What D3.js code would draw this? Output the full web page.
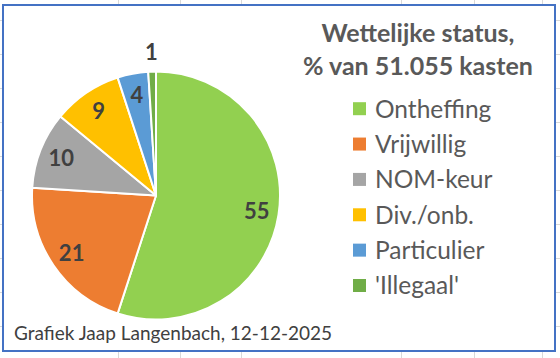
<!DOCTYPE html>
<html>
<head>
<meta charset="utf-8">
<script src="https://cdn.jsdelivr.net/npm/d3@7"></script>
<style>
    html, body { margin: 0; padding: 0; background: #fff; }
    svg { display: block; font-family: Lato, "Open Sans", sans-serif; }
    .grid line { stroke: #d9d9d9; stroke-width: 1px; }
    .frame { fill: #fff; stroke: #4472C4; stroke-width: 2px; }
    .title { fill: #595959; font-weight: bold; font-size: 25px; }
    .legend text { fill: #595959; font-size: 24.5px; }
    .label { fill: #404040; font-weight: bold; font-size: 22px; }
    .footer { fill: #404040; font-size: 19px; }
</style>
</head>
<body>
<svg id="chart" width="560" height="358"></svg>
<script>
const categories = ["Ontheffing", "Vrijwillig", "NOM-keur", "Div./onb.", "Particulier", "'Illegaal'"];
const values = [55, 21, 10, 9, 4, 1];
const colors = ["#92D050", "#ED7D31", "#A5A5A5", "#FFC000", "#5B9BD5", "#70AD47"];
const titleLines = ["Wettelijke status,", "% van 51.055 kasten"];
const footerText = "Grafiek Jaap Langenbach, 12-12-2025";

const svg = d3.select("#chart");

// spreadsheet cells behind the chart
let grid = svg.append("g").attr("class", "grid");
let colX = [118.5, 180.5, 241.5, 401.5, 474.5, 542.5];
grid.selectAll("line.v").data(colX).enter().append("line")
    .attr("x1", d => d).attr("x2", d => d).attr("y1", 0).attr("y2", 358);
grid.selectAll("line.h").data(d3.range(20.5, 358, 34)).enter().append("line")
    .attr("x1", 0).attr("x2", 560).attr("y1", d => d).attr("y2", d => d);

svg.append("rect").attr("class", "frame")
    .attr("x", 3).attr("y", 5).attr("width", 552).attr("height", 346);

// pie
let cx = 156, cy = 195.5, r = 124;
let color = d3.scaleOrdinal().domain(categories).range(colors);
let pie = d3.pie().sort(null).value(d => d.value);
let arcs = pie(categories.map((c, i) => ({ name: c, value: values[i] })));
let arc = d3.arc().innerRadius(0).outerRadius(r);
let inner = d3.arc().innerRadius(102).outerRadius(102);
let outer = d3.arc().innerRadius(r + 19.5).outerRadius(r + 19.5);

let g = svg.append("g").attr("transform", `translate(${cx},${cy})`);
g.selectAll("path").data(arcs).enter().append("path")
    .attr("d", arc)
    .attr("fill", d => color(d.data.name))
    .attr("stroke", "#fff")
    .attr("stroke-width", 2)
    .attr("stroke-linejoin", "round");

g.selectAll("text").data(arcs).enter().append("text")
    .attr("class", "label")
    .attr("text-anchor", "middle")
    .attr("dy", "0.36em")
    .attr("transform", d => {
        let p = (d.data.value < 2 ? outer : inner).centroid(d);
        return `translate(${p[0]},${p[1]})`;
    })
    .text(d => d.data.value);

// title
svg.append("text").attr("class", "title")
    .attr("text-anchor", "middle")
    .selectAll("tspan").data(titleLines).enter().append("tspan")
    .attr("x", 418)
    .attr("y", (d, i) => 42 + i * 33.3)
    .text(d => d);

// legend
let ly = d3.scaleLinear().domain([0, categories.length - 1]).range([108.7, 285.5]);
let legend = svg.append("g").attr("class", "legend");
let items = legend.selectAll("g").data(categories).enter().append("g")
    .attr("transform", (d, i) => `translate(353,${ly(i)})`);
items.append("rect")
    .attr("x", 0).attr("y", -6.5).attr("width", 13).attr("height", 13)
    .attr("fill", d => color(d));
items.append("text")
    .attr("x", 22).attr("y", 8.8)
    .text(d => d);

svg.append("text").attr("class", "footer")
    .attr("x", 14).attr("y", 340)
    .text(footerText);
</script>
</body>
</html>
